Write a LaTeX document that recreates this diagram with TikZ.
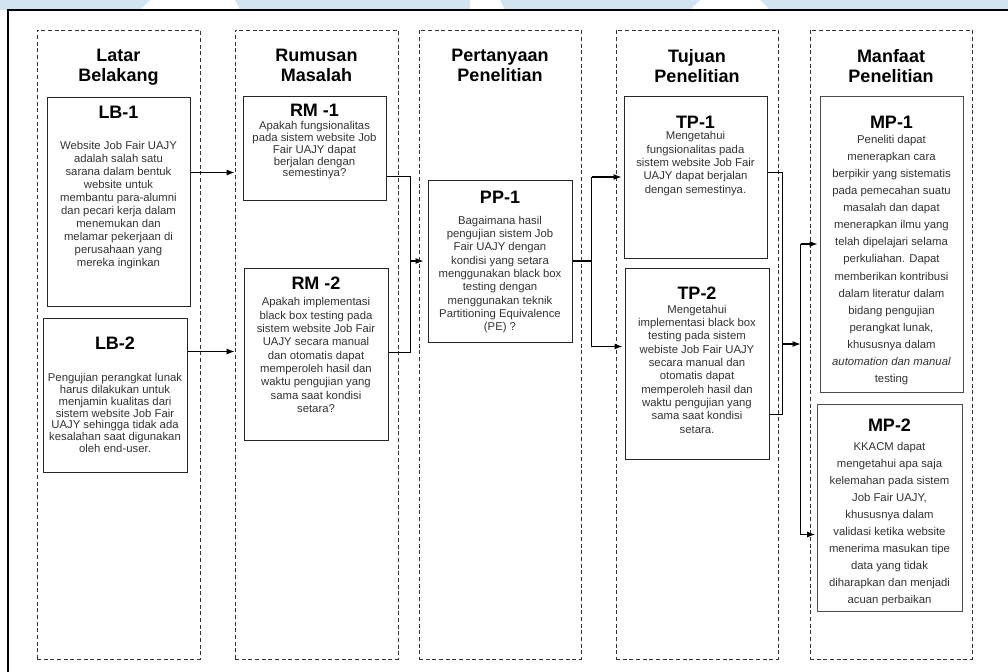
\documentclass[tikz,border=0pt]{standalone}
\usepackage{fontspec}
\setmainfont{Liberation Sans}
\usetikzlibrary{arrows.meta,calc,fit}
\definecolor{txt}{HTML}{333333}
\definecolor{wm}{HTML}{D3E4F1}
\begin{document}
\begin{tikzpicture}[x=0.75pt,y=-0.75pt,
  colbox/.style={draw=black!80, densely dashed, line width=0.5pt, inner sep=0pt},
  stepbox/.style={draw=black!85, line width=0.75pt, inner sep=0pt},
  hdr/.style={font=\fontsize{13.5pt}{15pt}\selectfont\bfseries, align=center, inner sep=0pt, anchor=north},
  ttl/.style={font=\fontsize{13.5pt}{15pt}\selectfont\bfseries, inner sep=0pt},
  bodyA/.style={text=txt, align=center, inner sep=0pt, font=\fontsize{8.5pt}{9.75pt}\selectfont},
  bodyB/.style={text=txt, align=center, inner sep=0pt, font=\fontsize{8.5pt}{8.8pt}\selectfont},
  bodyC/.style={text=txt, align=center, inner sep=0pt, font=\fontsize{8.5pt}{10pt}\selectfont},
  bodyD/.style={text=txt, align=center, inner sep=0pt, font=\fontsize{8.5pt}{12.8pt}\selectfont},
  conn/.style={draw=black, line width=0.8pt},
  arr/.style={conn, -{Latex[length=6pt,width=4.5pt]}},
]
\useasboundingbox (0,0) rectangle (1008,672);
% watermark strip
\fill[wm] (0,0) -- (150,0) -- (140,10) -- (0,10) -- cycle;
\fill[wm] (235,0) -- (470,0) -- (470,10) -- (240,10) -- cycle;
\fill[wm] (500,0) -- (700,0) -- (690,10) -- (505,10) -- cycle;
\fill[wm] (760,0) -- (1008,0) -- (1008,10) -- (770,10) -- cycle;
\fill[white] (8,10) rectangle (1008,672);
% outer frame
\draw[line width=0.9pt] (8,672) -- (8,10) -- (1008,10);

% columns
\node[colbox, fit={(37,30) (200,659)}] (C1) {};
\node[colbox, fit={(235,30) (398,659)}] (C2) {};
\node[colbox, fit={(419,30) (581,659)}] (C3) {};
\node[colbox, fit={(616,30) (778,659)}] (C4) {};
\node[colbox, fit={(810,30) (972,659)}] (C5) {};

\node[hdr] (H1) at (118.5,49) {Latar\\Belakang};
\node[hdr] (H2) at (316.5,49) {Rumusan\\Masalah};
\node[hdr] (H3) at (500,49) {Pertanyaan\\Penelitian};
\node[hdr] (H4) at (697,49) {Tujuan\\Penelitian};
\node[hdr] (H5) at (891,49) {Manfaat\\Penelitian};

% boxes
\node[stepbox, fit={(47,97) (190,306)}] (LB1) {};
\node[stepbox, fit={(43,318) (187,472)}] (LB2) {};
\node[stepbox, fit={(243,96) (386,200)}] (RM1) {};
\node[stepbox, fit={(244,268) (388,440)}] (RM2) {};
\node[stepbox, fit={(428,180) (572,342)}] (PP1) {};
\node[stepbox, fit={(624,96) (767,258)}] (TP1) {};
\node[stepbox, fit={(625,268) (769,459)}] (TP2) {};
\node[stepbox, draw=black!70, fit={(820,96) (963,392)}] (MP1) {};
\node[stepbox, draw=black!70, fit={(817,404) (962,611)}] (MP2) {};

% titles
\node[ttl] (tLB1) at (118.5,112) {LB-1};
\node[ttl] (tLB2) at (115,343) {LB-2};
\node[ttl] (tRM1) at (314.5,110) {RM -1};
\node[ttl] (tRM2) at (316,283) {RM -2};
\node[ttl] (tPP1) at (500,197) {PP-1};
\node[ttl] (tTP1) at (695.5,122) {TP-1};
\node[ttl] (tTP2) at (697,293) {TP-2};
\node[ttl] (tMP1) at (891.5,122) {MP-1};
\node[ttl] (tMP2) at (889.5,425) {MP-2};

% bodies
\node[bodyA] (bLB1) at (118.5,205.5) {Website Job Fair UAJY\\adalah salah satu\\sarana dalam bentuk\\website untuk\\membantu para-alumni\\dan pecari kerja dalam\\menemukan dan\\melamar pekerjaan di\\perusahaan yang\\mereka inginkan};
\node[bodyB] (bLB2) at (115,413) {Pengujian perangkat lunak\\harus dilakukan untuk\\menjamin kualitas dari\\sistem website Job Fair\\UAJY sehingga tidak ada\\kesalahan saat digunakan\\oleh end-user.};
\node[bodyB] (bRM1) at (314.5,150.5) {Apakah fungsionalitas\\pada sistem website Job\\Fair UAJY dapat\\berjalan dengan\\semestinya?};
\node[bodyC] (bRM2) at (316,355) {Apakah implementasi\\black box testing pada\\sistem website Job Fair\\UAJY secara manual\\dan otomatis dapat\\memperoleh hasil dan\\waktu pengujian yang\\sama saat kondisi\\setara?};
\node[bodyC] (bPP1) at (500,274.5) {Bagaimana hasil\\pengujian sistem Job\\Fair UAJY dengan\\kondisi yang setara\\menggunakan black box\\testing dengan\\menggunakan teknik\\Partitioning Equivalence\\(PE) ?};
\node[bodyC] (bTP1) at (695.5,163.5) {Mengetahui\\fungsionalitas pada\\sistem website Job Fair\\UAJY dapat berjalan\\dengan semestinya.};
\node[bodyC] (bTP2) at (697,369) {Mengetahui\\implementasi black box\\testing pada sistem\\webiste Job Fair UAJY\\secara manual dan\\otomatis dapat\\memperoleh hasil dan\\waktu pengujian yang\\sama saat kondisi\\setara.};
\node[bodyD] (bMP1) at (891.5,260) {Peneliti dapat\\menerapkan cara\\berpikir yang sistematis\\pada pemecahan suatu\\masalah dan dapat\\menerapkan ilmu yang\\telah dipelajari selama\\perkuliahan. Dapat\\memberikan kontribusi\\dalam literatur dalam\\bidang pengujian\\perangkat lunak,\\khususnya dalam\\\textit{automation dan manual}\\testing};
\node[bodyD] (bMP2) at (889.5,524) {KKACM dapat\\mengetahui apa saja\\kelemahan pada sistem\\Job Fair UAJY,\\khususnya dalam\\validasi ketika website\\menerima masukan tipe\\data yang tidak\\diharapkan dan menjadi\\acuan perbaikan};

% connectors column 1 -> 2
\coordinate (p1) at ($(LB1.north east)+(0,76)$);
\draw[arr] (p1) -- (p1 -| C2.west);
\coordinate (p2) at ($(LB2.north east)+(0,34)$);
\draw[arr] (p2) -- (p2 -| C2.west);

% column 2 -> 3
\coordinate (p3) at ($(RM1.north east)+(0,81)$);
\coordinate (p4) at ($(RM2.north east)+(0,85)$);
\coordinate (j1) at ($(p3)+(24,0)$);
\draw[conn] (p3) -- (j1) |- (p4);
\draw[arr, shorten >=3pt] (j1 |- PP1.west) -- (PP1.west);

% column 3 -> 4
\coordinate (j2) at ($(PP1.east)+(19,0)$);
\coordinate (p5) at ($(TP2.north west)+(0,79)$);
\draw[conn] (PP1.east) -- (j2);
\draw[conn] (j2 |- TP1.west) -- (j2 |- p5);
\draw[arr, shorten >=1.5pt] (j2 |- TP1.west) -- (TP1.west);
\draw[arr, shorten >=1.5pt] (j2 |- p5) -- (p5);

% column 4 -> 5
\coordinate (p6) at ($(TP1.north east)+(0,77)$);
\coordinate (p7) at ($(TP2.north east)+(0,147)$);
\coordinate (j3) at ($(p6)+(15,0)$);
\draw[conn] (p6) -- (j3) |- (p7);
\coordinate (p8) at ($(MP2.north west)+(0,131)$);
\coordinate (j4) at ($(MP1.west)+(-19,0)$);
\draw[conn] (j4) -- (j4 |- p8);
\draw[arr] (j3 |- 0,344) -- (j4 |- 0,344);
\draw[arr, shorten >=1.5pt] (j4) -- (MP1.west);
\draw[arr, shorten >=1pt] (j4 |- p8) -- (p8);
\end{tikzpicture}
\end{document}
